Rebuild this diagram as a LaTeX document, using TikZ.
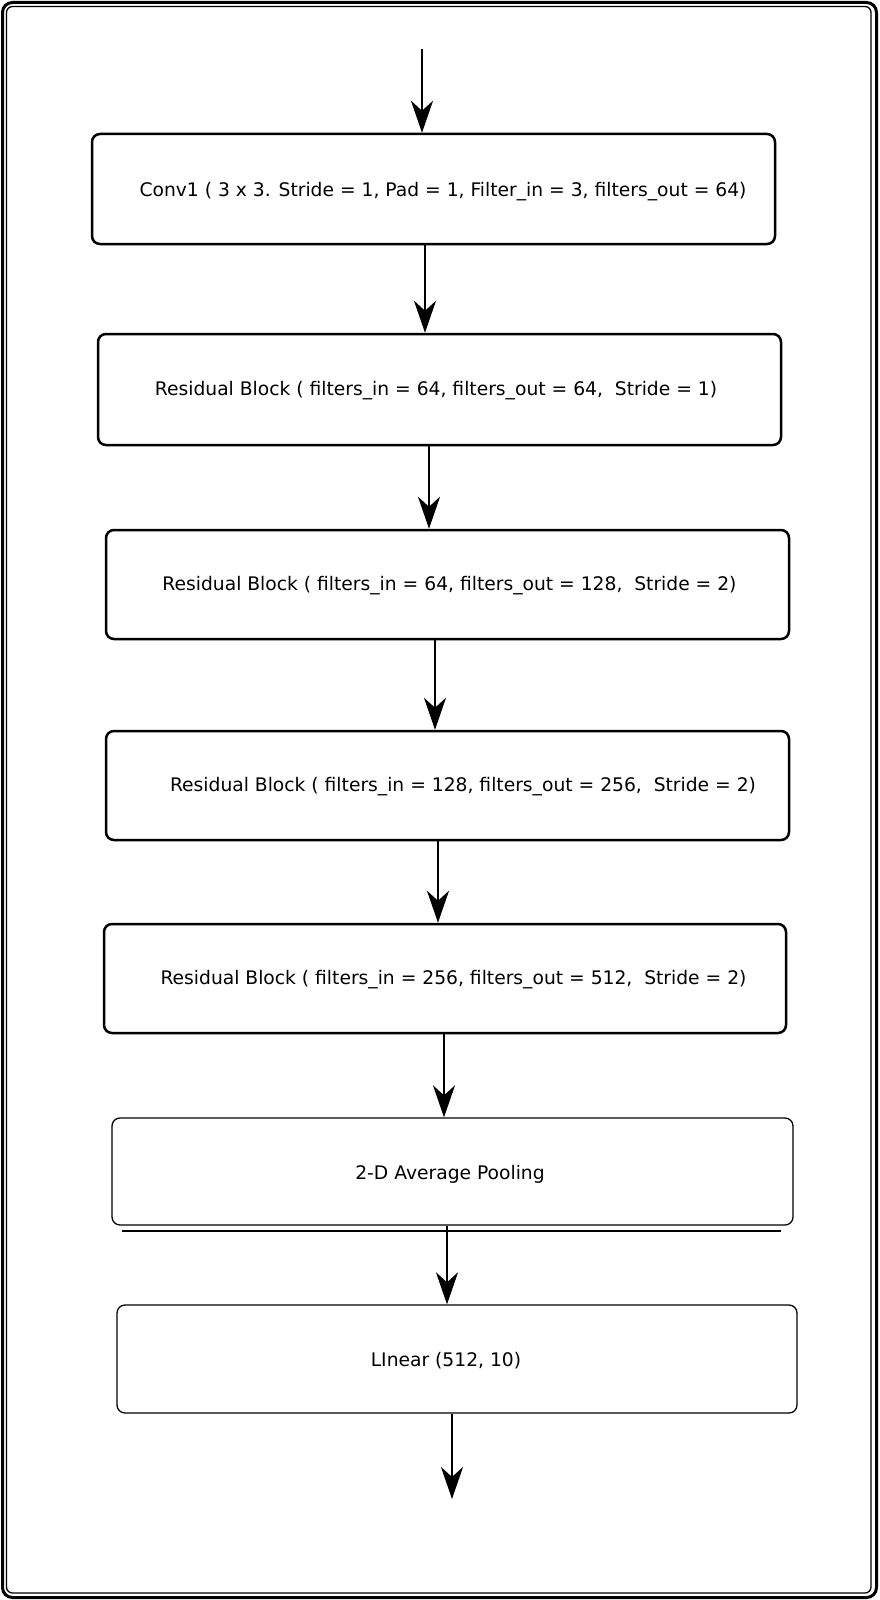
\documentclass[tikz,border=0pt]{standalone}
\usepackage{fontspec}
\setmainfont{DejaVu Sans}
\usetikzlibrary{arrows.meta}

\begin{document}
\begin{tikzpicture}[x=1pt, y=-1pt, font=\fontsize{18.7}{22}\selectfont,
  block/.style={draw, line width=2.5pt, rounded corners=8pt,
    minimum width=683pt, minimum height=109pt, inner sep=0pt},
  thinblock/.style={block, line width=1.3pt},
  flow/.style={line width=2.6pt,
    -{Stealth[length=32pt, width=22pt, inset=10pt]}}]
  \useasboundingbox (0,0) rectangle (879,1600);
  % frame
  \draw[line width=3pt, rounded corners=10pt] (2.5,2.5) rectangle (876.5,1597.5);
  \draw[line width=1.3pt, rounded corners=6pt] (6.5,6.5) rectangle (871,1593);

  \node[block, minimum height=110pt,
    label={[xshift=9.5pt, yshift=-3pt]center:{Conv1 ( 3 x 3. Stride = 1, Pad = 1, Filter\_in = 3, filters\_out = 64)}}]
    (conv) at (433.5,189) {};
  \node[block, minimum height=111pt,
    label={[xshift=-3.5pt, yshift=-1pt]center:{Residual Block ( filters\_in = 64, filters\_out = 64,~ Stride = 1)}}]
    (res1) at (439.5,389.5) {};
  \node[block,
    label={[xshift=2pt, yshift=-1pt]center:{Residual Block ( filters\_in = 64, filters\_out = 128,~ Stride = 2)}}]
    (res2) at (447.5,584.5) {};
  \node[block,
    label={[xshift=15.5pt, yshift=-1pt]center:{Residual Block ( filters\_in = 128, filters\_out = 256,~ Stride = 2)}}]
    (res3) at (447.5,785.5) {};
  \node[block, minimum width=682pt,
    label={[xshift=8.5pt, yshift=-1pt]center:{Residual Block ( filters\_in = 256, filters\_out = 512,~ Stride = 2)}}]
    (res4) at (445,978.5) {};
  \node[thinblock, minimum width=681pt, minimum height=107pt,
    label={[xshift=-2.5pt, yshift=-3pt]center:{2-D Average Pooling}}]
    (pool) at (452.5,1171.5) {};
  \draw[line width=1.3pt] (122,1231) -- (781,1231);
  \node[thinblock, minimum width=680pt, minimum height=108pt,
    label={[xshift=-11pt, yshift=-2pt]center:{LInear (512, 10)}}]
    (linear) at (457,1359) {};

  % connectors
  \coordinate (in) at (422,49);
  \coordinate (out) at (452,1499);
  \draw[flow] (in) -- (in |- conv.north);
  \foreach \a/\b/\x in {conv/res1/425, res1/res2/429, res2/res3/435,
    res3/res4/438, res4/pool/444, pool/linear/447}
    \draw[flow] (\x,0 |- \a.south) -- (\x,0 |- \b.north);
  \draw[flow] (out |- linear.south) -- (out);
\end{tikzpicture}
\end{document}
